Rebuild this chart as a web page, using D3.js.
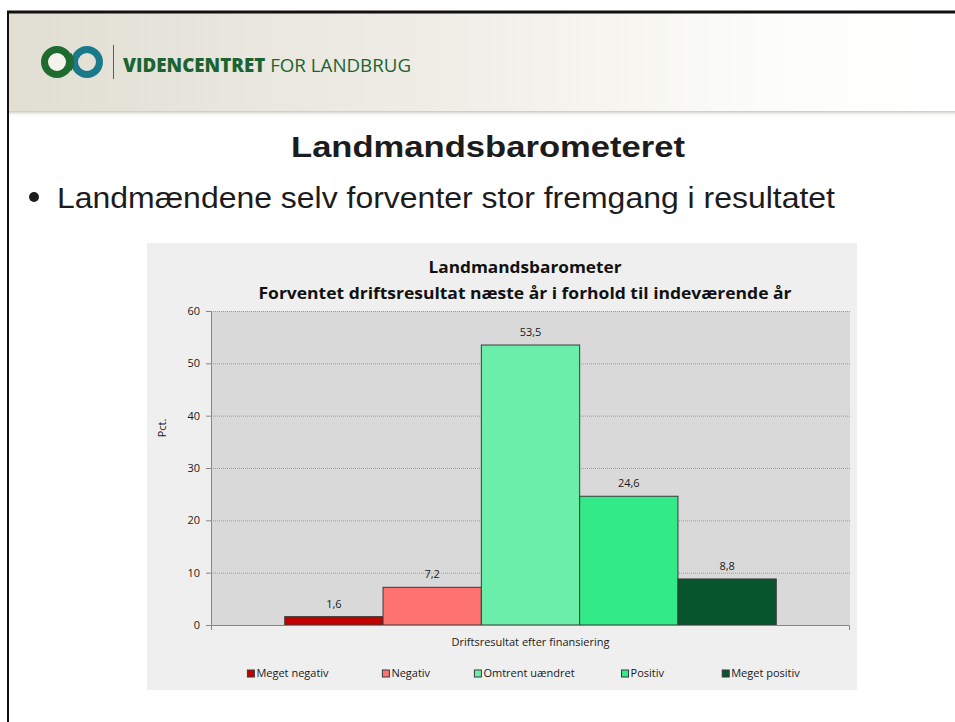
<!DOCTYPE html>
<html lang="da">
<head>
  <meta charset="UTF-8">
  <title>Landmandsbarometeret</title>
  <script src="https://d3js.org/d3.v7.min.js"></script>
  <style>
    body { margin: 0; background: #fff; }
    svg { display: block; }
  </style>
</head>
<body>
  <svg id="svg" width="955" height="722"></svg>
  <script>
    // data
    var category = 'Driftsresultat efter finansiering'
    var seriesNames = ['Meget negativ', 'Negativ', 'Omtrent uændret', 'Positiv', 'Meget positiv']
    var seriesValues = [1.6, 7.2, 53.5, 24.6, 8.8]
    var seriesColors = ['#c00000', '#ff7272', '#6aeea9', '#33ea88', '#07552d']
    var yTicks = [0, 10, 20, 30, 40, 50, 60]

    var svg = d3.select('#svg')
    var defs = svg.append('defs')

    // slide header
    var hg = defs.append('linearGradient').attr('id', 'hdr')
    hg.append('stop').attr('offset', '0%').attr('stop-color', '#e1ded3')
    hg.append('stop').attr('offset', '45%').attr('stop-color', '#efede6')
    hg.append('stop').attr('offset', '80%').attr('stop-color', '#fcfcf9')
    hg.append('stop').attr('offset', '100%').attr('stop-color', '#ffffff')
    var sg = defs.append('linearGradient').attr('id', 'shd').attr('x1', 0).attr('x2', 0).attr('y1', 0).attr('y2', 1)
    sg.append('stop').attr('offset', '0%').attr('stop-color', '#c9c6bd')
    sg.append('stop').attr('offset', '100%').attr('stop-color', '#ffffff').attr('stop-opacity', 0)

    svg.append('rect').attr('x', 9).attr('y', 13).attr('width', 946).attr('height', 98).style('fill', 'url(#hdr)')
    svg.append('rect').attr('x', 9).attr('y', 111).attr('width', 946).attr('height', 6).style('fill', 'url(#shd)')
    svg.append('line').attr('x1', 7).attr('x2', 955).attr('y1', 12).attr('y2', 12)
      .style('stroke', '#111').style('stroke-width', 3)
    svg.append('line').attr('x1', 8).attr('x2', 8).attr('y1', 11).attr('y2', 722)
      .style('stroke', '#111').style('stroke-width', 2)

    // logo
    svg.append('circle').attr('cx', 57).attr('cy', 62).attr('r', 12.5)
      .style('fill', '#f4f3ee').style('stroke', '#1e6a2f').style('stroke-width', 7)
    svg.append('circle').attr('cx', 87).attr('cy', 62).attr('r', 12.5)
      .style('fill', 'none').style('stroke', '#1b7a89').style('stroke-width', 7)
    svg.append('path').attr('d', 'M 68.5 55 A 12.5 12.5 0 0 1 68.5 69')
      .style('fill', 'none').style('stroke', '#1e6a2f').style('stroke-width', 7)
    svg.append('line').attr('x1', 113.5).attr('x2', 113.5).attr('y1', 45).attr('y2', 79)
      .style('stroke', '#2f7a3f').style('stroke-width', 1)
    var brand = svg.append('text').attr('x', 123).attr('y', 72)
      .style('font-family', '"Open Sans", sans-serif').style('font-size', '19px').style('fill', '#1b6431')
    brand.append('tspan').style('font-weight', 800).text('VIDENCENTRET')
    brand.append('tspan').style('font-weight', 400).text(' FOR LANDBRUG')
    brand.attr('textLength', 288).attr('lengthAdjust', 'spacingAndGlyphs')

    // slide title and bullet
    svg.append('text').attr('x', 488).attr('y', 157).attr('text-anchor', 'middle')
      .style('font-family', '"Liberation Sans", Arial, sans-serif').style('font-weight', 700)
      .style('font-size', '29px').style('fill', '#1c1c1c')
      .attr('textLength', 394).attr('lengthAdjust', 'spacingAndGlyphs')
      .text('Landmandsbarometeret')
    svg.append('circle').attr('cx', 34).attr('cy', 197).attr('r', 5).style('fill', '#1c1c1c')
    svg.append('text').attr('x', 57).attr('y', 208)
      .style('font-family', '"Liberation Sans", Arial, sans-serif')
      .style('font-size', '30px').style('fill', '#1c1c1c')
      .attr('textLength', 778).attr('lengthAdjust', 'spacingAndGlyphs')
      .text('Landmændene selv forventer stor fremgang i resultatet')

    // chart box
    var smallFont = '"Open Sans", "Noto Sans", sans-serif'
    svg.append('rect').attr('x', 147).attr('y', 243).attr('width', 710).attr('height', 447).style('fill', '#efefef')

    var plot = { left: 211, right: 850, top: 311, bottom: 625 }

    var y = d3.scaleLinear().domain([0, 60]).range([plot.bottom, plot.top])
    var x0 = d3.scaleBand().domain([category]).range([plot.left, plot.right])
      .paddingInner(0).paddingOuter(0.15)
    var x1 = d3.scaleBand().domain(seriesNames).range([0, x0.bandwidth()])

    svg.append('rect').attr('x', plot.left).attr('y', plot.top)
      .attr('width', plot.right - plot.left).attr('height', plot.bottom - plot.top)
      .style('fill', '#d9d9d9')

    // gridlines
    svg.append('g').selectAll('line')
      .data(yTicks.filter(d => d > 0))
      .enter()
      .append('line')
      .attr('x1', plot.left).attr('x2', plot.right)
      .attr('y1', d => y(d) + 0.5).attr('y2', d => y(d) + 0.5)
      .style('stroke', '#9c9c9c').style('stroke-width', 1).style('stroke-dasharray', '1,1')

    // bars
    var comma = d3.formatLocale({ decimal: ',', thousands: '.', grouping: [3], currency: ['', ' kr'] }).format('.1f')
    var bars = svg.append('g')
    bars.selectAll('rect')
      .data(seriesValues)
      .enter()
      .append('rect')
      .attr('x', (d, i) => x0(category) + x1(seriesNames[i]))
      .attr('y', d => y(d))
      .attr('width', x1.bandwidth())
      .attr('height', d => plot.bottom - y(d))
      .style('fill', (d, i) => seriesColors[i])
      .style('stroke', '#3a3a3a').style('stroke-width', 1)
    bars.selectAll('text')
      .data(seriesValues)
      .enter()
      .append('text')
      .attr('x', (d, i) => x0(category) + x1(seriesNames[i]) + x1.bandwidth() / 2)
      .attr('y', d => y(d) - 9)
      .attr('text-anchor', 'middle')
      .style('font-family', smallFont).style('font-size', '11px').style('fill', '#1a1a1a')
      .text(d => comma(d))

    // y axis
    var yAxis = svg.append('g').attr('transform', 'translate(' + plot.left + ',0)')
      .call(d3.axisLeft(y).tickValues(yTicks).tickSize(5).tickSizeOuter(0).tickPadding(6).tickFormat(d3.format('d')))
    yAxis.select('.domain').style('stroke', '#868686')
    yAxis.selectAll('.tick line').style('stroke', '#868686')
    yAxis.selectAll('.tick text').style('font-family', smallFont).style('font-size', '11px').style('fill', '#1a1a1a')

    // x axis
    var xLine = d3.scaleLinear().domain([0, 1]).range([plot.left, plot.right - 1])
    var xAxis = svg.append('g').attr('transform', 'translate(0,' + plot.bottom + ')')
      .call(d3.axisBottom(xLine).tickValues([]).tickSizeOuter(5))
    xAxis.select('.domain').style('stroke', '#868686')

    // axis titles
    svg.append('text').attr('transform', 'translate(166,428) rotate(-90)').attr('text-anchor', 'middle')
      .style('font-family', smallFont).style('font-size', '11px').style('fill', '#1a1a1a')
      .text('Pct.')
    svg.append('text').attr('x', (plot.left + plot.right) / 2).attr('y', 646).attr('text-anchor', 'middle')
      .style('font-family', smallFont).style('font-size', '11px').style('fill', '#1a1a1a')
      .text(category)

    // chart title
    var titleFont = '"Open Sans", "Noto Sans", sans-serif'
    svg.append('text').attr('x', 525).attr('y', 273).attr('text-anchor', 'middle')
      .style('font-family', titleFont).style('font-weight', 700).style('font-size', '16.5px').style('fill', '#111')
      .attr('textLength', 193).attr('lengthAdjust', 'spacingAndGlyphs')
      .text('Landmandsbarometer')
    svg.append('text').attr('x', 525).attr('y', 299).attr('text-anchor', 'middle')
      .style('font-family', titleFont).style('font-weight', 700).style('font-size', '16.5px').style('fill', '#111')
      .attr('textLength', 533).attr('lengthAdjust', 'spacingAndGlyphs')
      .text('Forventet driftsresultat næste år i forhold til indeværende år')

    // legend
    var legendPos = d3.scalePoint().domain(seriesNames).range([288, 761])
    var legend = svg.append('g')
    seriesNames.forEach(function (name, i) {
      var item = legend.append('g')
      item.append('rect').attr('x', 0).attr('y', -7).attr('width', 7).attr('height', 7)
        .style('fill', seriesColors[i]).style('stroke', '#3a3a3a').style('stroke-width', 1)
      var t = item.append('text').attr('x', 9).attr('y', 0)
        .style('font-family', smallFont).style('font-size', '11px').style('fill', '#1a1a1a')
        .text(name)
      var w = 9 + t.node().getComputedTextLength()
      item.attr('transform', 'translate(' + (legendPos(name) - w / 2) + ',677)')
    })
  </script>
</body>
</html>
